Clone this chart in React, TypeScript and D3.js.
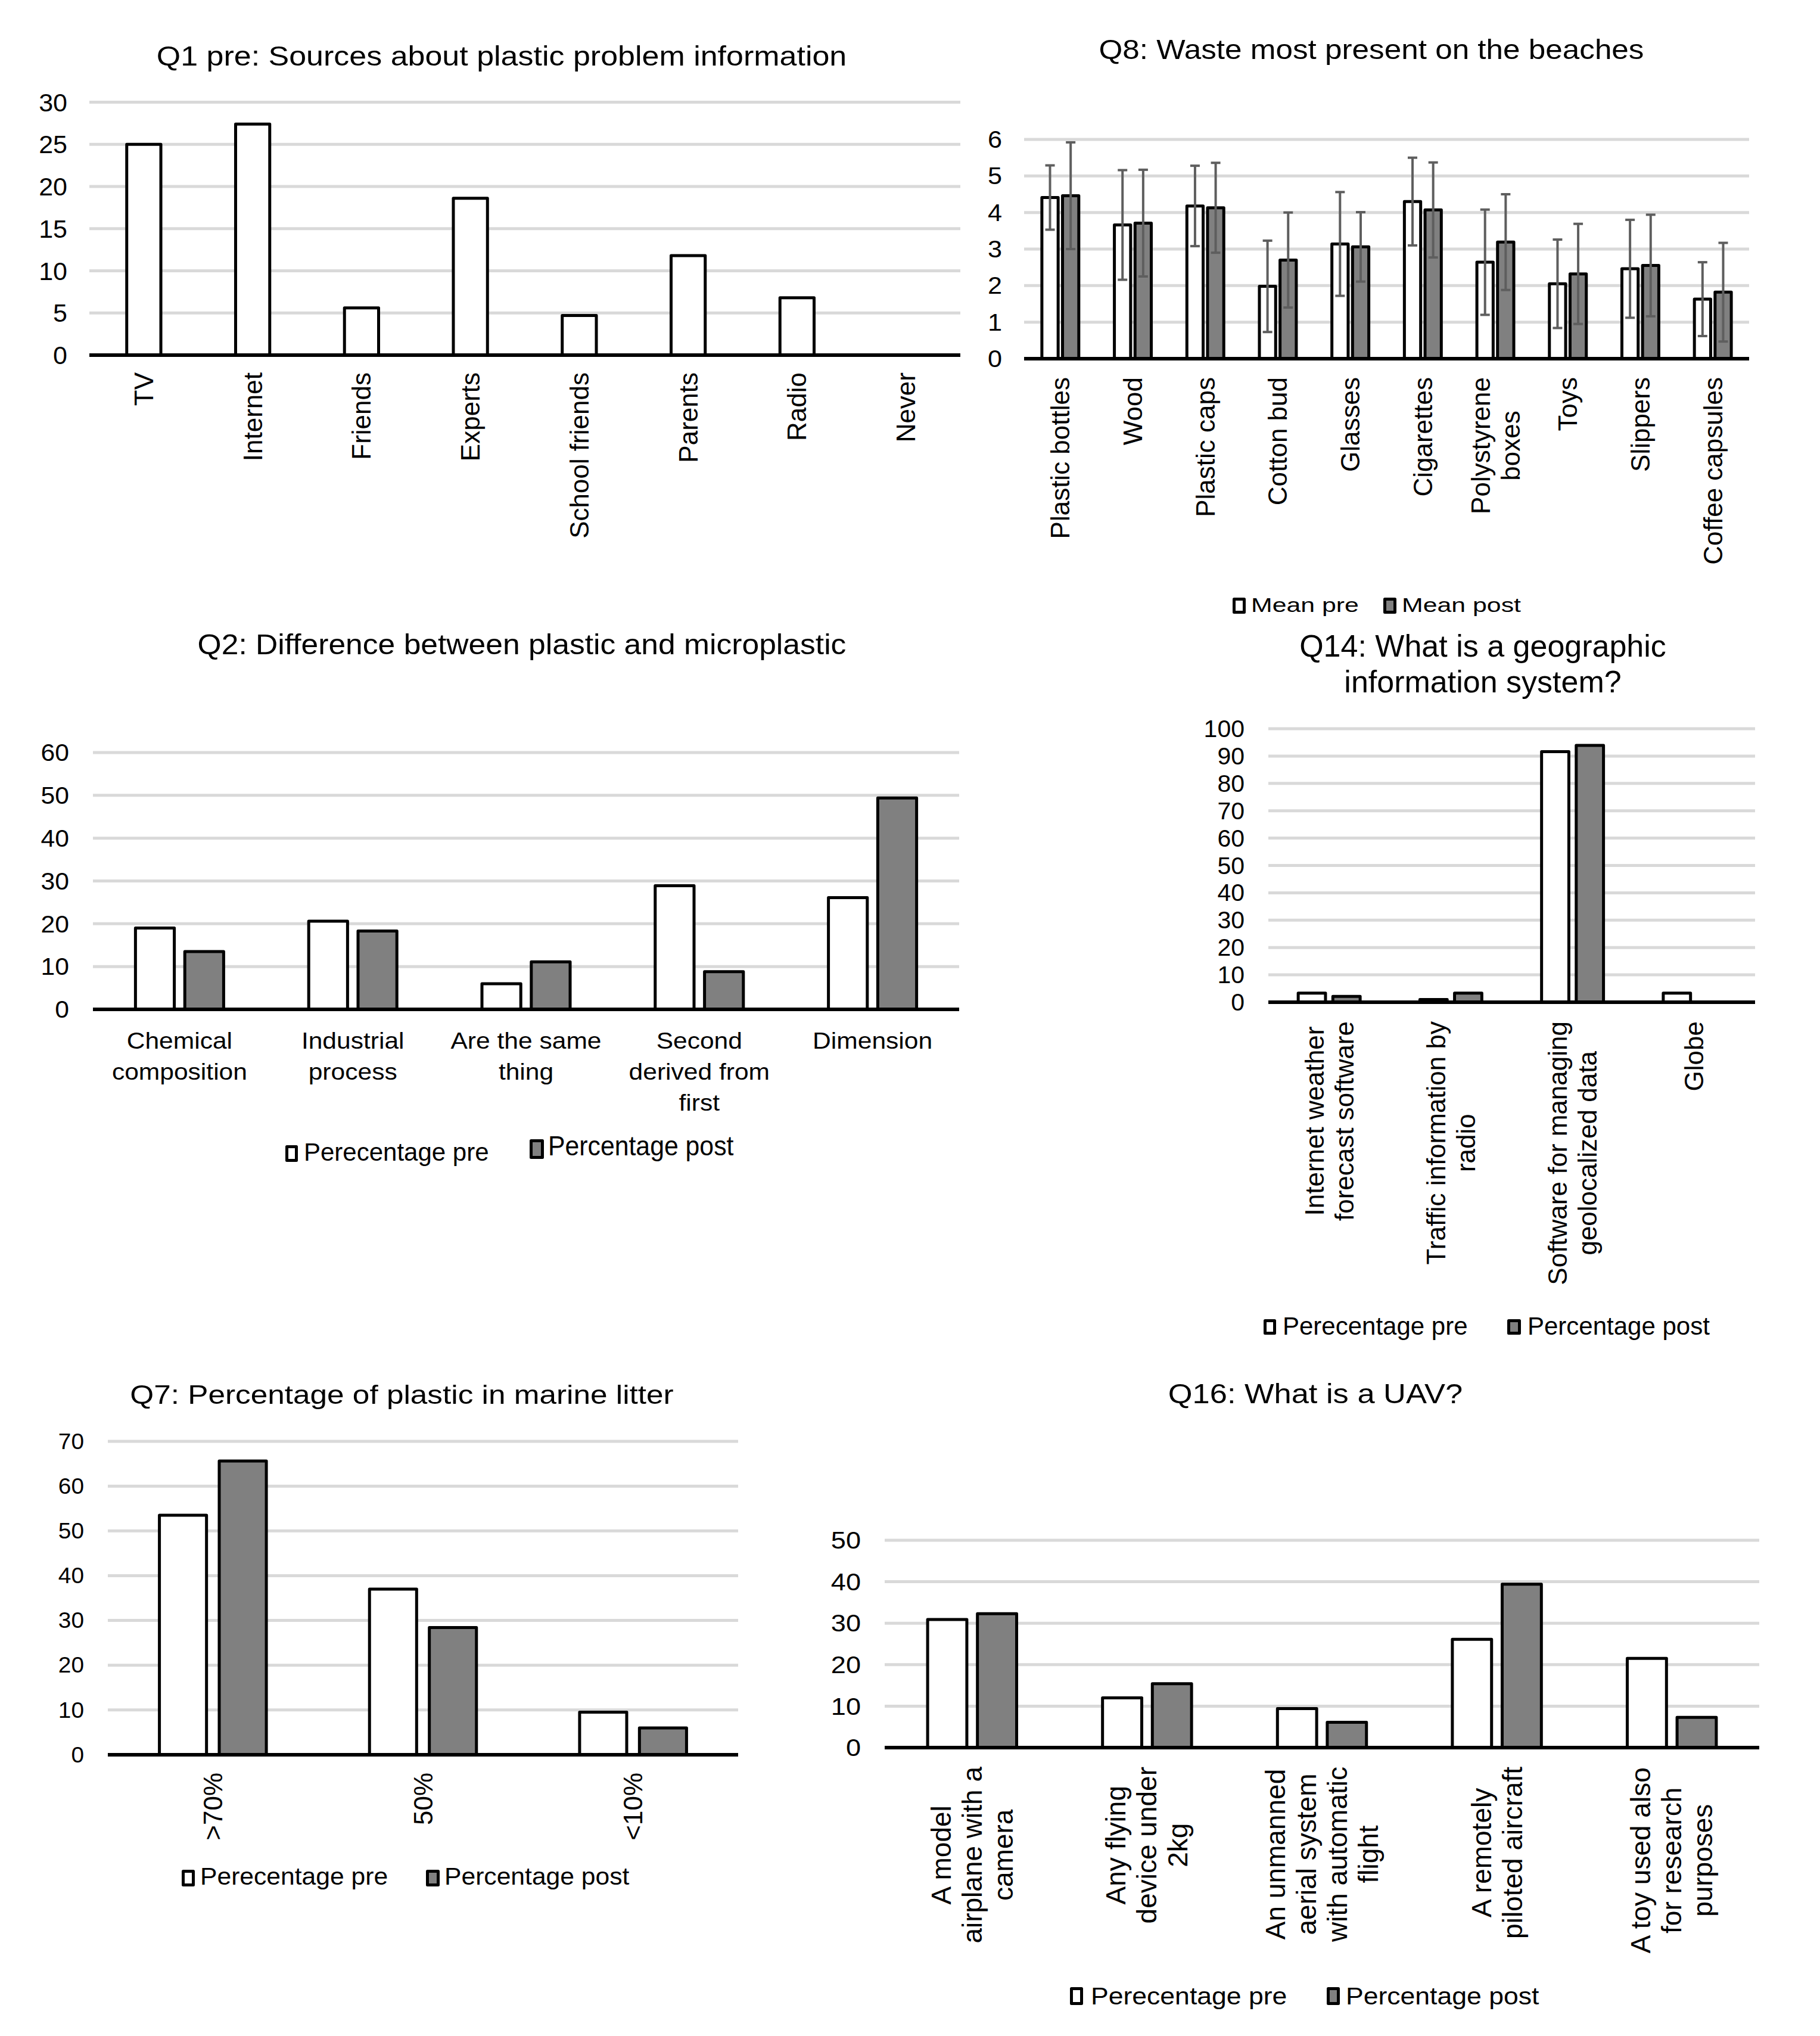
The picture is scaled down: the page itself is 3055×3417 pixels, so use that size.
import React from "react";
import * as d3 from "d3";

const FONT = '"Liberation Sans", Arial, Helvetica, sans-serif';
const PRE_FILL = "#ffffff";
const POST_FILL = "#808080";
const GRID = "#d9d9d9";
const ERR = "#5e5e5e";

// ---------- Q1 ----------
const q1Categories = ["TV", "Internet", "Friends", "Experts", "School friends", "Parents", "Radio", "Never"];
const q1Values = [25.0, 27.4, 5.6, 18.6, 4.7, 11.8, 6.8, 0];

// ---------- Q8 ----------
const q8Categories = ["Plastic bottles", "Wood", "Plastic caps", "Cotton bud", "Glasses", "Cigarettes", "Polystyrene\nboxes", "Toys", "Slippers", "Coffee capsules"];
const q8MeanPre = [4.41, 3.66, 4.18, 1.98, 3.14, 4.3, 2.64, 2.05, 2.46, 1.63];
const q8SdPre = [0.88, 1.5, 1.1, 1.25, 1.42, 1.2, 1.44, 1.21, 1.34, 1.01];
const q8MeanPost = [4.46, 3.71, 4.13, 2.7, 3.06, 4.07, 3.19, 2.32, 2.55, 1.82];
const q8SdPost = [1.46, 1.46, 1.23, 1.3, 0.95, 1.3, 1.31, 1.37, 1.39, 1.35];

// ---------- Q2 ----------
const q2Categories = ["Chemical\ncomposition", "Industrial\nprocess", "Are the same\nthing", "Second\nderived from\nfirst", "Dimension"];
const q2Pre = [19.0, 20.6, 6.0, 28.9, 26.1];
const q2Post = [13.5, 18.3, 11.1, 8.8, 49.4];

// ---------- Q14 ----------
const q14Categories = ["Internet weather\nforecast software", "Traffic information by\nradio", "Software for managing\ngeolocalized data", "Globe"];
const q14Pre = [3.3, 1.0, 91.6, 3.3];
const q14Post = [2.1, 3.3, 93.9, 0];

// ---------- Q7 ----------
const q7Categories = [">70%", "50%", "<10%"];
const q7Pre = [53.5, 37.0, 9.5];
const q7Post = [65.6, 28.4, 6.0];

// ---------- Q16 ----------
const q16Categories = [
  "A model\nairplane with a\ncamera",
  "Any flying\ndevice under\n2kg",
  "An unmanned\naerial system\nwith automatic\nflight",
  "A remotely\npiloted aircraft",
  "A toy used also\nfor research\npurposes",
];
const q16Pre = [30.9, 12.0, 9.4, 26.1, 21.5];
const q16Post = [32.3, 15.4, 6.1, 39.4, 7.3];

const legendPrePerc = "Perecentage pre";
const legendPostPerc = "Percentage post";

let measureCtx: CanvasRenderingContext2D | null = null;
function textWidth(s: string, size: number): number {
  if (!measureCtx) {
    const c = document.createElement("canvas");
    measureCtx = c.getContext("2d");
  }
  if (measureCtx) {
    measureCtx.font = `${size}px "Liberation Sans", Arial, sans-serif`;
    return measureCtx.measureText(s).width;
  }
  return s.length * size * 0.52;
}

type Series = { values: number[]; fill: string; sd?: number[] };
type LegendItem = {
  label: string; fill: string; boxX: number; boxY: number; boxW: number; boxH: number;
  textX: number; baseline: number; size: number; sx: number;
};
type PanelProps = {
  title: string[]; titleX: number; titleBaselines: number[]; titleSize: number; titleSx: number;
  categories: string[]; series: Series[];
  max: number; step: number; left: number; right: number; y0: number; yTop: number;
  tickRight: number; tickSize: number; tickSx: number;
  labelMode: "rotated" | "horizontal"; labelSize: number; labelSx: number; labelGap: number; lineHeight: number;
  labelBaseline?: number;
  legend?: LegendItem[];
};

function Panel(p: PanelProps) {
  const x = d3.scaleBand<string>().domain(p.categories).range([p.left, p.right]).padding(0);
  const y = d3.scaleLinear().domain([0, p.max]).range([p.y0, p.yTop]);
  const ticks = d3.range(0, p.max + p.step / 2, p.step);
  const n = p.series.length;
  const band = x.bandwidth();
  const w = band / (n + (n - 1) * 0.27 + 2.19);
  const groupW = n * w + (n - 1) * 0.27 * w;

  return (
    <g>
      {p.title.map((t, i) => (
        <text key={"t" + i} transform={`translate(${p.titleX},${p.titleBaselines[i]}) scale(${p.titleSx},1)`}
          textAnchor="middle" fontSize={p.titleSize} fill="#000">{t}</text>
      ))}
      {ticks.map((t) => (
        <g key={"g" + t}>
          {t > 0 && <line x1={p.left} x2={p.right} y1={y(t)} y2={y(t)} stroke={GRID} strokeWidth={5} />}
          <text transform={`translate(${p.tickRight},${y(t)}) scale(${p.tickSx},1)`} textAnchor="end"
            dominantBaseline="central" fontSize={p.tickSize} fill="#000">{t}</text>
        </g>
      ))}
      {p.categories.map((c, ci) => {
        const cx = (x(c) as number) + band / 2;
        const start = cx - groupW / 2;
        return (
          <g key={"c" + ci}>
            {p.series.map((s, si) => {
              const v = s.values[ci];
              if (!v) return null;
              const bx = start + si * 1.27 * w;
              return (
                <rect key={"b" + si} x={bx} y={y(v)} width={w} height={p.y0 - y(v)} fill={s.fill}
                  stroke="#000" strokeWidth={5} strokeLinejoin="round" />
              );
            })}
            {p.series.map((s, si) => {
              if (!s.sd) return null;
              const v = s.values[ci];
              const sd = s.sd[ci];
              const ex = start + si * 1.27 * w + w / 2;
              return (
                <g key={"e" + si} stroke={ERR} strokeWidth={4}>
                  <line x1={ex} x2={ex} y1={y(v + sd)} y2={y(v - sd)} />
                  <line x1={ex - 8} x2={ex + 8} y1={y(v + sd)} y2={y(v + sd)} />
                  <line x1={ex - 8} x2={ex + 8} y1={y(v - sd)} y2={y(v - sd)} />
                </g>
              );
            })}
          </g>
        );
      })}
      <line x1={p.left} x2={p.right} y1={p.y0} y2={p.y0} stroke="#000" strokeWidth={6} />
      {p.categories.map((c, ci) => {
        const cx = (x(c) as number) + band / 2;
        const lines = c.split("\n");
        const k = lines.length;
        if (p.labelMode === "rotated") {
          const maxW = Math.max(...lines.map((l) => textWidth(l, p.labelSize)));
          const cy = p.y0 + p.labelGap + maxW / 2;
          return (
            <g key={"l" + ci}>
              {lines.map((l, li) => (
                <text key={li} transform={`translate(${cx + (li - (k - 1) / 2) * p.lineHeight},${cy}) rotate(-90)`}
                  textAnchor="middle" dominantBaseline="central" fontSize={p.labelSize} fill="#000">{l}</text>
              ))}
            </g>
          );
        }
        return (
          <g key={"l" + ci}>
            {lines.map((l, li) => (
              <text key={li} transform={`translate(${cx},${(p.labelBaseline as number) + li * p.lineHeight}) scale(${p.labelSx},1)`}
                textAnchor="middle" fontSize={p.labelSize} fill="#000">{l}</text>
            ))}
          </g>
        );
      })}
      {(p.legend || []).map((L, i) => (
        <g key={"lg" + i}>
          <rect x={L.boxX + 2.5} y={L.boxY + 2.5} width={L.boxW - 5} height={L.boxH - 5} fill={L.fill}
            stroke="#000" strokeWidth={5} strokeLinejoin="round" />
          <text transform={`translate(${L.textX},${L.baseline}) scale(${L.sx},1)`} fontSize={L.size} fill="#000">{L.label}</text>
        </g>
      ))}
    </g>
  );
}

export default function App() {
  return (
    <div style={{ position: "absolute", left: 0, top: 0, width: 3055, height: 3417, background: "#fff" }}>
      <svg width={3055} height={3417} viewBox="0 0 3055 3417" style={{ display: "block", fontFamily: FONT }}>
        <rect x={0} y={0} width={3055} height={3417} fill="#fff" />
        <Panel
          title={["Q1 pre: Sources about plastic problem information"]} titleX={842} titleBaselines={[110]} titleSize={46} titleSx={1.13}
          categories={q1Categories} series={[{ values: q1Values, fill: PRE_FILL }]}
          max={30} step={5} left={150} right={1612} y0={596} yTop={171.5}
          tickRight={113} tickSize={43} tickSx={1}
          labelMode="rotated" labelSize={44} labelSx={1} labelGap={29} lineHeight={51}
        />
        <Panel
          title={["Q8: Waste most present on the beaches"]} titleX={2302} titleBaselines={[99]} titleSize={47} titleSx={1.09}
          categories={q8Categories}
          series={[{ values: q8MeanPre, fill: PRE_FILL, sd: q8SdPre }, { values: q8MeanPost, fill: POST_FILL, sd: q8SdPost }]}
          max={6} step={1} left={1719} right={2936} y0={602} yTop={234}
          tickRight={1682} tickSize={40} tickSx={1.08}
          labelMode="rotated" labelSize={44} labelSx={1} labelGap={31} lineHeight={50}
          legend={[
            { label: "Mean pre", fill: PRE_FILL, boxX: 2069, boxY: 1003, boxW: 22, boxH: 27, textX: 2100, baseline: 1027, size: 34, sx: 1.26 },
            { label: "Mean post", fill: POST_FILL, boxX: 2322, boxY: 1003, boxW: 22, boxH: 27, textX: 2353, baseline: 1027, size: 34, sx: 1.26 },
          ]}
        />
        <Panel
          title={["Q2: Difference between plastic and microplastic"]} titleX={876} titleBaselines={[1098]} titleSize={48} titleSx={1.075}
          categories={q2Categories}
          series={[{ values: q2Pre, fill: PRE_FILL }, { values: q2Post, fill: POST_FILL }]}
          max={60} step={10} left={156} right={1610} y0={1694} yTop={1263}
          tickRight={116} tickSize={41} tickSx={1.04}
          labelMode="horizontal" labelSize={38} labelSx={1.12} labelGap={0} lineHeight={52} labelBaseline={1760}
          legend={[
            { label: legendPrePerc, fill: PRE_FILL, boxX: 479, boxY: 1922, boxW: 21, boxH: 28, textX: 510, baseline: 1948, size: 42, sx: 1.0 },
            { label: legendPostPerc, fill: POST_FILL, boxX: 889, boxY: 1912, boxW: 24, boxH: 33, textX: 920, baseline: 1939, size: 46.5, sx: 0.92 },
          ]}
        />
        <Panel
          title={["Q14: What is a geographic", "information system?"]} titleX={2489} titleBaselines={[1102, 1162]} titleSize={52} titleSx={1}
          categories={q14Categories}
          series={[{ values: q14Pre, fill: PRE_FILL }, { values: q14Post, fill: POST_FILL }]}
          max={100} step={10} left={2129} right={2946} y0={1682} yTop={1223}
          tickRight={2089} tickSize={41} tickSx={1}
          labelMode="rotated" labelSize={44} labelSx={1} labelGap={32} lineHeight={50}
          legend={[
            { label: legendPrePerc, fill: PRE_FILL, boxX: 2121, boxY: 2214, boxW: 21, boxH: 26, textX: 2153, baseline: 2240, size: 42, sx: 1 },
            { label: legendPostPerc, fill: POST_FILL, boxX: 2530, boxY: 2214, boxW: 23, boxH: 26, textX: 2564, baseline: 2240, size: 42, sx: 1 },
          ]}
        />
        <Panel
          title={["Q7: Percentage of plastic in marine litter"]} titleX={674.5} titleBaselines={[2356]} titleSize={45} titleSx={1.14}
          categories={q7Categories}
          series={[{ values: q7Pre, fill: PRE_FILL }, { values: q7Post, fill: POST_FILL }]}
          max={70} step={10} left={181} right={1239} y0={2945} yTop={2419}
          tickRight={141} tickSize={37} tickSx={1.05}
          labelMode="rotated" labelSize={44} labelSx={1} labelGap={30} lineHeight={50}
          legend={[
            { label: legendPrePerc, fill: PRE_FILL, boxX: 305, boxY: 3138, boxW: 22, boxH: 28, textX: 336, baseline: 3163, size: 41, sx: 1.04 },
            { label: legendPostPerc, fill: POST_FILL, boxX: 715, boxY: 3138, boxW: 23, boxH: 28, textX: 746, baseline: 3163, size: 41, sx: 1.04 },
          ]}
        />
        <Panel
          title={["Q16: What is a UAV?"]} titleX={2208} titleBaselines={[2355]} titleSize={46} titleSx={1.14}
          categories={q16Categories}
          series={[{ values: q16Pre, fill: PRE_FILL }, { values: q16Post, fill: POST_FILL }]}
          max={50} step={10} left={1485} right={2953} y0={2933} yTop={2585}
          tickRight={1445} tickSize={41} tickSx={1.1}
          labelMode="rotated" labelSize={46} labelSx={1} labelGap={32} lineHeight={52}
          legend={[
            { label: legendPrePerc, fill: PRE_FILL, boxX: 1796, boxY: 3335, boxW: 22, boxH: 30, textX: 1831, baseline: 3364, size: 40.5, sx: 1.1 },
            { label: legendPostPerc, fill: POST_FILL, boxX: 2227, boxY: 3335, boxW: 22, boxH: 30, textX: 2259, baseline: 3364, size: 40.5, sx: 1.1 },
          ]}
        />
      </svg>
    </div>
  );
}
